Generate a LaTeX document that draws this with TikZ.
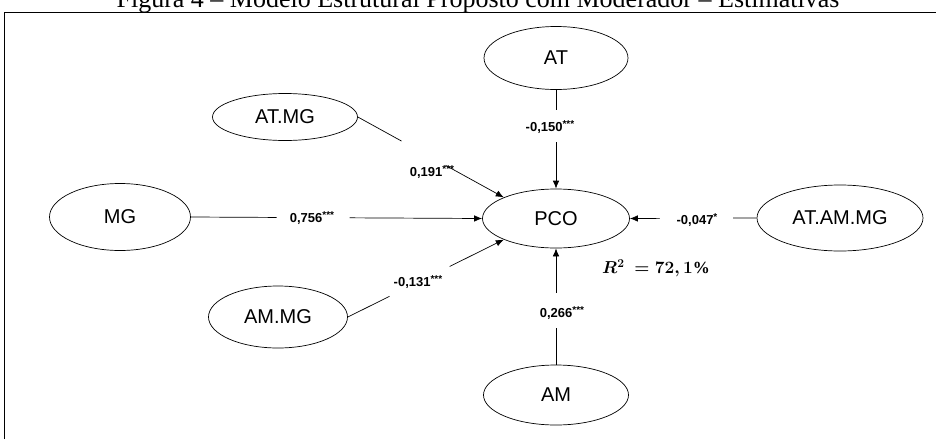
\documentclass[tikz,border=0pt]{standalone}
\usepackage{fontspec}
\setmainfont{Liberation Serif}
\setsansfont{Liberation Sans}
\usepackage{amsmath}
\usetikzlibrary{shapes.geometric,arrows.meta}

\newcommand{\sig}[1]{\raisebox{3.5pt}{\fontsize{10}{10}\selectfont #1}}

\begin{document}
\begin{tikzpicture}[x=1pt, y=-1pt,
  construct/.style={draw, ellipse, inner sep=0pt, line width=0.7pt, font=\sffamily\fontsize{20}{23}\selectfont},
  path/.style={line width=0.7pt, -{Latex[length=8pt,width=6.5pt]}},
  gap/.style={fill=white, inner sep=0pt, minimum height=4pt, sloped},
  coef/.style={font=\sffamily\bfseries\fontsize{13}{15}\selectfont}]
\useasboundingbox (0,0) rectangle (936,439);
% caption and frame
\node (caption) at (478,8) [anchor=base, font=\fontsize{26}{30}\selectfont] {Figura 4 – Modelo Estrutural Proposto com Moderador – Estimativas};
\draw[line width=1pt] (4,439) -- (4,12) -- (936,12);
% constructs
\node (at) at (556,58) [construct, minimum width=144pt, minimum height=63pt] {AT};
\node (atmg) at (285,117) [construct, minimum width=145pt, minimum height=47pt] {AT.MG};
\node (mg) at (120,217) [construct, minimum width=141pt, minimum height=67pt] {MG};
\node (pco) at (556,218.5) [construct, minimum width=147pt, minimum height=59pt] {PCO};
\node (atammg) at (840,218) [construct, minimum width=166pt, minimum height=66pt] {AT.AM.MG};
\node (ammg) at (278,317) [construct, minimum width=139pt, minimum height=62pt] {AM.MG};
\node (am) at (556,395) [construct, minimum width=145pt, minimum height=60pt] {AM};
% paths
\draw[path] (atmg.east) -- node[gap, pos=0.45, minimum width=50pt] {} (pco.north west);
\draw[path] (mg.east) -- node[gap, pos=0.42, minimum width=73pt] {} (pco.west);
\draw[path] (ammg.east) -- node[gap, pos=0.46, minimum width=67pt] {} (pco.south west);
\draw[path] (at.south) -- node[gap, pos=0.365, minimum width=32pt] {} (pco.north);
\draw[path] (atammg.west) -- node[gap, pos=0.475, minimum width=73pt] {} (pco.east);
\draw[path] (am.north) -- node[gap, pos=0.466, minimum width=35pt] {} (pco.south);
% coefficients
\node (c_atmg) at (432,172) [coef] {0,191\sig{***}};
\node (c_mg) at (312,218) [coef] {0,756\sig{***}};
\node (c_ammg) at (418,282) [coef] {-0,131\sig{***}};
\node (c_at) at (550,127) [coef] {-0,150\sig{***}};
\node (c_atammg) at (697,220) [coef] {-0,047\sig{*}};
\node (c_am) at (562,313) [coef] {0,266\sig{***}};
\node (r2) at (656,268) [font=\fontsize{17}{20}\selectfont] {$\boldsymbol{R^2\ = 72,1\%}$};
\end{tikzpicture}
\end{document}
